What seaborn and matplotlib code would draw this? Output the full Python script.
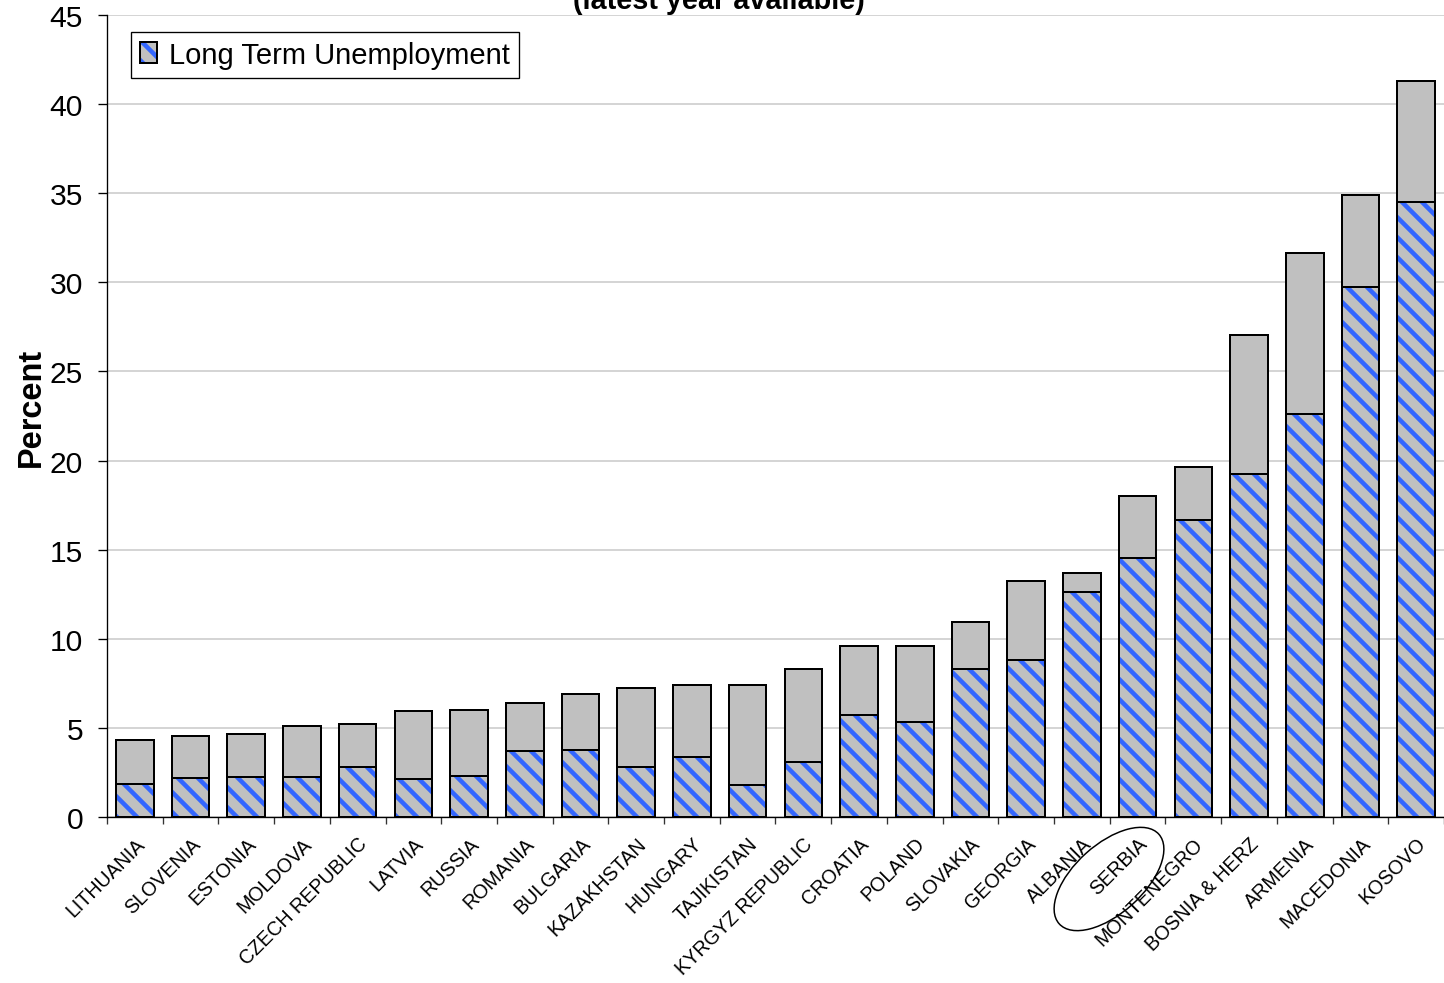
import numpy as np
import pandas as pd
import seaborn as sns
import matplotlib.pyplot as plt
from matplotlib.patches import Ellipse
from matplotlib.transforms import IdentityTransform

# data (percent)
countries = ["LITHUANIA", "SLOVENIA", "ESTONIA", "MOLDOVA", "CZECH REPUBLIC", "LATVIA",
             "RUSSIA", "ROMANIA", "BULGARIA", "KAZAKHSTAN", "HUNGARY", "TAJIKISTAN",
             "KYRGYZ REPUBLIC", "CROATIA", "POLAND", "SLOVAKIA", "GEORGIA", "ALBANIA",
             "SERBIA", "MONTENEGRO", "BOSNIA & HERZ", "ARMENIA", "MACEDONIA", "KOSOVO"]
total_unemp = [4.31, 4.57, 4.66, 5.09, 5.24, 5.93, 6.03, 6.37, 6.89, 7.25, 7.42, 7.42,
               8.31, 9.57, 9.57, 10.92, 13.25, 13.68, 18.01, 19.66, 27.06, 31.62, 34.92, 41.3]
long_term = [1.87, 2.2, 2.22, 2.22, 2.82, 2.13, 2.31, 3.68, 3.78, 2.82, 3.34, 1.79,
             3.1, 5.74, 5.35, 8.31, 8.82, 12.65, 14.56, 16.64, 19.23, 22.61, 29.76, 34.49]
y_ticks = list(range(0, 50, 5))
legend_label = "Long Term Unemployment"
subtitle = "(latest year available)"

GREY = "#c0c0c0"
BLUE = "#3366ff"
DPI = 120

df = pd.DataFrame({"country": countries, "total": total_unemp, "long_term": long_term})

sns.set_theme(style="white")
plt.rcParams["font.family"] = ["Liberation Sans", "DejaVu Sans"]
plt.rcParams["hatch.linewidth"] = 2.7
plt.rcParams["text.color"] = "black"
plt.rcParams["axes.labelcolor"] = "black"
plt.rcParams["xtick.color"] = "black"
plt.rcParams["ytick.color"] = "black"

W, H = 1444, 984
fig = plt.figure(figsize=(W / DPI, H / DPI), dpi=DPI)
ax = fig.add_axes([107 / W, 1 - 818 / H, 1 - 107 / W, (818 - 16) / H])

bw = 0.675
# full bar (total unemployment)
sns.barplot(data=df, x="country", y="total", color=GREY, saturation=1, width=bw,
            errorbar=None, ax=ax)
for p in ax.containers[-1].patches:
    p.set_edgecolor("black")
    p.set_linewidth(1.2)

# long term part, blue stripes on grey
sns.barplot(data=df, x="country", y="long_term", color=GREY, saturation=1, width=bw,
            errorbar=None, ax=ax)
lt_bars = ax.containers[-1]
for p in lt_bars.patches:
    p.set_hatch("\\\\")
    p.set_edgecolor(BLUE)
    p.set_linewidth(0)

# outline of long term part
sns.barplot(data=df, x="country", y="long_term", color="black", fill=False, width=bw,
            errorbar=None, ax=ax)
lt_outline = ax.containers[-1]
for p in lt_outline.patches:
    p.set_edgecolor("black")
    p.set_facecolor("none")
    p.set_linewidth(1.2)

ax.set_ylim(0, 45)
ax.set_xlim(-0.5, 23.25)
ax.set_yticks(y_ticks)
ax.yaxis.grid(True, color="#c8c8c8", linewidth=0.9)
ax.xaxis.grid(False)
ax.set_axisbelow(True)

for s in ["top", "right"]:
    ax.spines[s].set_visible(False)
for s in ["left", "bottom"]:
    ax.spines[s].set_color("black")
    ax.spines[s].set_linewidth(0.8)

ax.tick_params(axis="y", which="major", direction="out", length=5.4, width=0.8,
               color="black", pad=9, labelsize=18, labelcolor="black", left=True)
ax.set_xticks(range(len(countries)))
ax.set_xticks(np.arange(-0.5, len(countries), 1), minor=True)
ax.tick_params(axis="x", which="major", length=0, pad=10, labelsize=11.8, labelcolor="black")
ax.tick_params(axis="x", which="minor", direction="out", length=4.2, width=0.8,
               color="#333333", bottom=True)
ax.set_xticklabels(countries, rotation=45, ha="right", va="top", rotation_mode="anchor")

ax.set_xlabel("")
ax.set_ylabel("Percent", fontsize=19.5, fontweight="bold", color="black")
ax.yaxis.set_label_coords(-0.045, 0.5125)

fig.text(719 / W, 1 - 9 / H, subtitle, ha="center", va="baseline",
         fontsize=17.3, fontweight="bold", color="black")

leg = ax.legend(handles=[(lt_bars.patches[0], lt_outline.patches[0])], labels=[legend_label],
                loc="upper left", bbox_to_anchor=(131 / W, 1 - 33 / H),
                bbox_transform=fig.transFigure, borderaxespad=0, fontsize=17.5,
                frameon=True, fancybox=False, framealpha=1, borderpad=0.3,
                handlelength=0.6, handleheight=0.7, handletextpad=0.4)
leg.get_frame().set_edgecolor("black")
leg.get_frame().set_linewidth(0.8)
for t in leg.get_texts():
    t.set_color("black")

# ring round the highlighted label
fig.add_artist(Ellipse((1109, H - 880), width=134, height=69, angle=42,
                       transform=IdentityTransform(), fill=False,
                       edgecolor="black", linewidth=0.9))

fig.savefig("out.png", dpi=DPI)
